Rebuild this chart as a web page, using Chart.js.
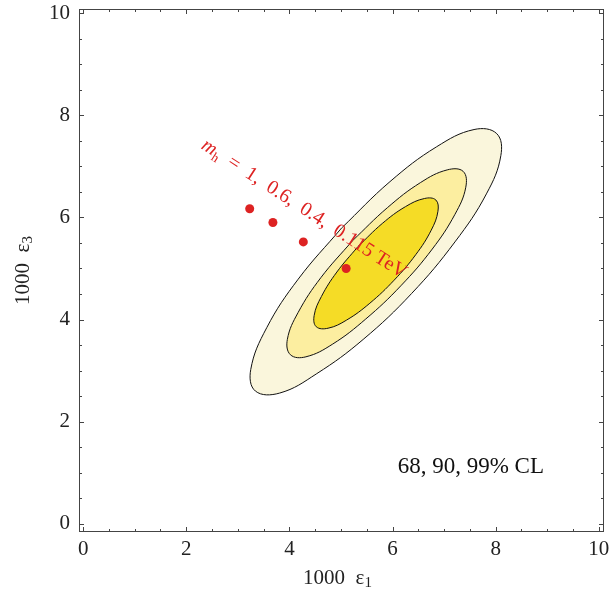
<!DOCTYPE html>
<html>
<head>
<meta charset="utf-8">
<script src="https://cdn.jsdelivr.net/npm/chart.js@4.4.1/dist/chart.umd.min.js"></script>
<style>
  html, body { margin: 0; padding: 0; background: #fff; }
</style>
</head>
<body>
<canvas id="myChart" width="610" height="593"></canvas>
<script>
// tick labels and tick marks (major every 2, minor every 0.5)
const xTickLabels = [0, 2, 4, 6, 8, 10];
const yTickLabels = [0, 2, 4, 6, 8, 10];
const frameTickValues = [0, 0.5, 1, 1.5, 2, 2.5, 3, 3.5, 4, 4.5, 5, 5.5, 6, 6.5, 7, 7.5, 8, 8.5, 9, 9.5, 10];

// SM Higgs mass points
const higgsMasses = ["1", "0.6", "0.4", "0.115"];
const eps1Points = [3.23, 3.68, 4.27, 5.10];
const eps3Points = [6.17, 5.90, 5.52, 5.00];

// contour outlines
const cl99X = [5.01, 4.17, 3.56, 3.25, 3.34, 3.81, 4.53, 5.43, 6.37, 7.21, 7.82, 8.10, 8.02, 7.58, 6.85, 5.95];
const cl99Y = [5.79, 4.79, 3.84, 3.02, 2.60, 2.56, 2.94, 3.61, 4.51, 5.52, 6.46, 7.21, 7.64, 7.72, 7.38, 6.70];
const cl90X = [5.22, 4.61, 4.17, 3.96, 4.02, 4.32, 4.84, 5.48, 6.16, 6.77, 7.21, 7.42, 7.37, 7.06, 6.54, 5.90];
const cl90Y = [5.54, 4.82, 4.14, 3.61, 3.31, 3.27, 3.52, 4.01, 4.66, 5.38, 6.06, 6.59, 6.90, 6.93, 6.68, 6.19];
const cl68X = [5.33, 4.92, 4.62, 4.48, 4.52, 4.75, 5.11, 5.56, 6.03, 6.45, 6.75, 6.88, 6.84, 6.62, 6.25, 5.80];
const cl68Y = [5.43, 4.93, 4.45, 4.08, 3.86, 3.83, 3.99, 4.32, 4.77, 5.27, 5.75, 6.12, 6.34, 6.37, 6.21, 5.88];

const SERIF = "'Liberation Serif', 'DejaVu Serif', serif";
const RED = "rgb(221, 34, 34)";

const closedLoop = (xs, ys) => {
  const pts = xs.map((x, i) => ({ x, y: ys[i] }));
  pts.push(pts[0]);
  return pts;
};

const contour = (label, xs, ys, color, order) => ({
  label,
  data: closedLoop(xs, ys),
  showLine: true,
  fill: "shape",
  backgroundColor: color,
  borderColor: "#111",
  borderWidth: 1,
  pointRadius: 0,
  tension: 0.4,
  order,
});

// "1000 ε" with a real subscript, centred on (0,0)
const drawSubTitle = (ctx, sub) => {
  ctx.font = "21px " + SERIF;
  const main = "1000  ε";
  const w1 = ctx.measureText(main).width;
  ctx.font = "15px " + SERIF;
  const w2 = ctx.measureText(sub).width;
  const start = -(w1 + w2) / 2;
  ctx.font = "21px " + SERIF;
  ctx.fillText(main, start, 0);
  ctx.font = "15px " + SERIF;
  ctx.fillText(sub, start + w1, 5);
};

const frameTicks = {
  id: "frameTicks",
  afterDatasetsDraw(chart) {
    const { ctx, chartArea: a, scales: { x, y } } = chart;
    ctx.save();
    ctx.strokeStyle = "#444";
    ctx.lineWidth = 1;
    ctx.strokeRect(a.left + 0.5, a.top + 0.5, a.width - 1, a.height - 1);
    ctx.beginPath();
    frameTickValues.forEach((v) => {
      const len = v % 2 === 0 ? 5 : 3;
      const px = Math.round(x.getPixelForValue(v)) + 0.5;
      ctx.moveTo(px, a.bottom);
      ctx.lineTo(px, a.bottom - len);
      ctx.moveTo(px, a.top);
      ctx.lineTo(px, a.top + len);
      const py = Math.round(y.getPixelForValue(v)) + 0.5;
      ctx.moveTo(a.left, py);
      ctx.lineTo(a.left + len, py);
      ctx.moveTo(a.right, py);
      ctx.lineTo(a.right - len, py);
    });
    ctx.stroke();

    // axis titles
    ctx.fillStyle = "#222";
    ctx.textBaseline = "middle";
    ctx.save();
    ctx.translate((a.left + a.right) / 2 - 4, 578);
    drawSubTitle(ctx, "1");
    ctx.restore();
    ctx.save();
    ctx.translate(23, (a.top + a.bottom) / 2);
    ctx.rotate(-Math.PI / 2);
    drawSubTitle(ctx, "3");
    ctx.restore();

    // rotated label for the Higgs mass points
    ctx.save();
    ctx.translate(x.getPixelForValue(2.27), y.getPixelForValue(7.36));
    ctx.rotate((33 * Math.PI) / 180);
    ctx.fillStyle = RED;
    ctx.textBaseline = "alphabetic";
    ctx.font = "italic 20px " + SERIF;
    ctx.fillText("m", 0, 0);
    let w = ctx.measureText("m").width;
    ctx.font = "13px " + SERIF;
    ctx.fillText("h", w, 4);
    w += ctx.measureText("h").width;
    ctx.font = "20px " + SERIF;
    ctx.fillText("  =  " + higgsMasses.join(",  ") + " TeV", w, 0);
    ctx.restore();

    // confidence levels note
    ctx.fillStyle = "#111";
    ctx.font = "23px " + SERIF;
    ctx.textBaseline = "middle";
    ctx.fillText("68, 90, 99% CL", x.getPixelForValue(6.1), y.getPixelForValue(1.12));
    ctx.restore();
  },
};

const ctx = document.getElementById("myChart").getContext("2d");

new Chart(ctx, {
  type: "scatter",
  data: {
    datasets: [
      {
        label: "m_h",
        data: eps1Points.map((x, i) => ({ x, y: eps3Points[i] })),
        pointRadius: 4.5,
        pointBackgroundColor: RED,
        pointBorderWidth: 0,
        order: 0,
      },
      contour("68% CL", cl68X, cl68Y, "rgb(245, 220, 38)", 1),
      contour("90% CL", cl90X, cl90Y, "rgb(252, 238, 160)", 2),
      contour("99% CL", cl99X, cl99Y, "rgb(250, 246, 220)", 3),
    ],
  },
  options: {
    responsive: false,
    animation: false,
    layout: { padding: { top: 9, right: 6, left: 0, bottom: 0 } },
    plugins: {
      legend: { display: false },
      tooltip: { enabled: false },
    },
    scales: {
      x: {
        type: "linear",
        min: -0.08,
        max: 10.1,
        grid: { display: false, drawTicks: false },
        border: { display: false },
        afterBuildTicks: (scale) => {
          scale.ticks = xTickLabels.map((value) => ({ value }));
        },
        afterFit: (scale) => {
          scale.height = 61;
          scale.paddingLeft = 0;
          scale.paddingRight = 0;
        },
        ticks: {
          padding: 5,
          maxRotation: 0,
          color: "#222",
          font: { family: SERIF, size: 21 },
        },
      },
      y: {
        type: "linear",
        min: -0.16,
        max: 10.08,
        grid: { display: false, drawTicks: false },
        border: { display: false },
        afterBuildTicks: (scale) => {
          scale.ticks = yTickLabels.map((value) => ({ value }));
        },
        afterFit: (scale) => {
          scale.width = 79;
          scale.paddingTop = 0;
          scale.paddingBottom = 0;
        },
        ticks: {
          padding: 9,
          color: "#222",
          font: { family: SERIF, size: 21 },
        },
      },
    },
  },
  plugins: [frameTicks],
});
</script>
</body>
</html>
